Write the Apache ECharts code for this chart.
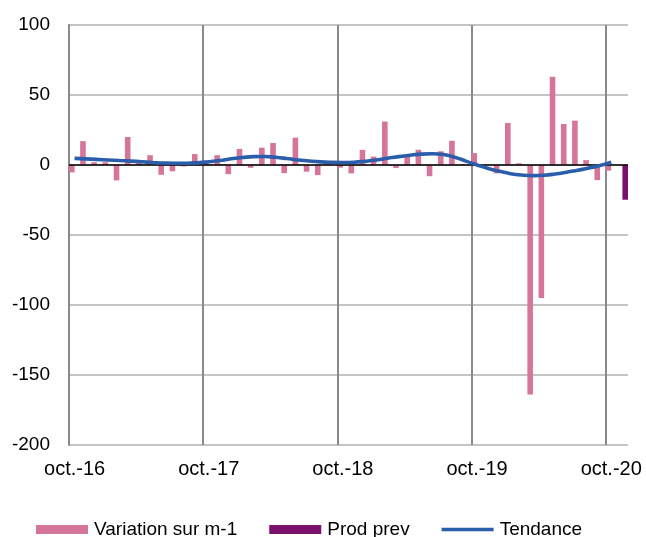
<!DOCTYPE html>
<html>
<head>
<meta charset="utf-8">
<script src="https://cdn.jsdelivr.net/npm/echarts@6/dist/echarts.min.js"></script>
<style>
html,body{margin:0;padding:0;background:#fff;}
#chart{width:646px;height:537px;}
</style>
</head>
<body>
<div id="chart"></div>
<script>
var monthNames = ['oct.','nov.','déc.','janv.','févr.','mars','avr.','mai','juin','juil.','août','sept.'];
var startYear = 16;
var months = [];
for (var k = 0; k < 50; k++) {
  var y = startYear + Math.floor(k / 12) + (k % 12 >= 3 ? 1 : 0);
  months.push(monthNames[k % 12] + '-' + y);
}

var variation = [
  -5.3, 17, 2, 2, -11, 20, 2, 7, -7, -4.5, -1, 7.8,
  3, 7, -6.5, 11.5, -2, 12.4, 15.7, -5.8, 19.5, -4.8, -7.2, 0.5,
  -1.9, -6, 10.8, 6, 31, -2.2, 6, 10.9, -8, 9.8, 17.3, 0.8,
  8.5, 0, -6, 30, 1.2, -164, -95, 63, 29.3, 31.7, 3.5, -10.8,
  -4, null
];

var prodPrev = [
  null, null, null, null, null, null, null, null, null, null, null, null,
  null, null, null, null, null, null, null, null, null, null, null, null,
  null, null, null, null, null, null, null, null, null, null, null, null,
  null, null, null, null, null, null, null, null, null, null, null, null,
  null, -24.8
];

var tendance = [
  4.7, 4.4, 4.0, 3.6, 3.2, 2.8, 2.3, 1.8, 1.4, 1.3, 1.3, 1.6,
  2.3, 3.2, 4.4, 5.3, 6.0, 6.1, 5.5, 4.6, 3.6, 2.8, 2.2, 1.9,
  1.8, 2.0, 2.7, 3.6, 4.8, 6.0, 7.0, 7.8, 8.0, 7.5, 5.5, 2.8,
  0, -2.5, -4.5, -6.2, -7.2, -7.6, -7.3, -6.4, -5.2, -3.7, -2.2, -0.3,
  2.0, null
];

var seriesNames = ['Variation sur m-1', 'Prod prev', 'Tendance'];

var FONT = '"Liberation Sans", Arial, sans-serif';
var chart = echarts.init(document.getElementById('chart'), null, {renderer: 'canvas'});
var yearTick = function (idx) { return idx % 12 === 0; };

chart.setOption({
  animation: false,
  backgroundColor: '#ffffff',
  textStyle: {fontFamily: FONT},
  grid: {left: 69, right: 18, top: 25, bottom: 92, containLabel: false},
  legend: {
    data: [
      {name: seriesNames[0], icon: 'rect'},
      {name: seriesNames[1], icon: 'rect'},
      {name: seriesNames[2], icon: 'path://M0,0 L54,0 L54,3.6 L0,3.6 Z'}
    ],
    left: 36,
    top: 520,
    padding: 0,
    itemWidth: 52,
    itemHeight: 9,
    itemGap: 32,
    symbolKeepAspect: true,
    textStyle: {fontFamily: FONT, fontSize: 19, color: '#000', padding: [0, 0, 0, 1]}
  },
  xAxis: {
    type: 'category',
    data: months,
    boundaryGap: true,
    axisLine: {show: false},
    axisTick: {show: false, interval: yearTick},
    axisLabel: {
      interval: yearTick,
      color: '#000',
      fontSize: 20,
      fontFamily: FONT,
      margin: 14
    },
    splitLine: {
      show: true,
      interval: yearTick,
      showMinLine: false,
      showMaxLine: false,
      lineStyle: {color: '#8a8a8a', width: 2}
    }
  },
  yAxis: {
    type: 'value',
    min: -200,
    max: 100,
    interval: 50,
    axisLine: {show: true, lineStyle: {color: '#8a8a8a', width: 2}},
    axisTick: {show: false},
    axisLabel: {color: '#000', fontSize: 19, fontFamily: FONT, margin: 19},
    splitLine: {show: true, lineStyle: {color: '#b0b0b0', width: 1.5}}
  },
  series: [
    {
      name: seriesNames[0],
      type: 'bar',
      data: variation,
      barWidth: 5.6,
      barGap: '0%',
      itemStyle: {color: '#d5759a'},
      markLine: {
        silent: true,
        symbol: 'none',
        label: {show: false},
        lineStyle: {color: '#000', width: 1.5, type: 'solid'},
        data: [{yAxis: 0}],
        z: 5
      }
    },
    {
      name: seriesNames[1],
      type: 'bar',
      data: prodPrev,
      barWidth: 5.6,
      barGap: '0%',
      itemStyle: {color: '#7b0f6e'}
    },
    {
      name: seriesNames[2],
      type: 'line',
      data: tendance,
      smooth: true,
      symbol: 'none',
      lineStyle: {color: '#2a5eab', width: 3.6},
      itemStyle: {color: '#2a5eab'},
      z: 10
    }
  ]
});
</script>
</body>
</html>
